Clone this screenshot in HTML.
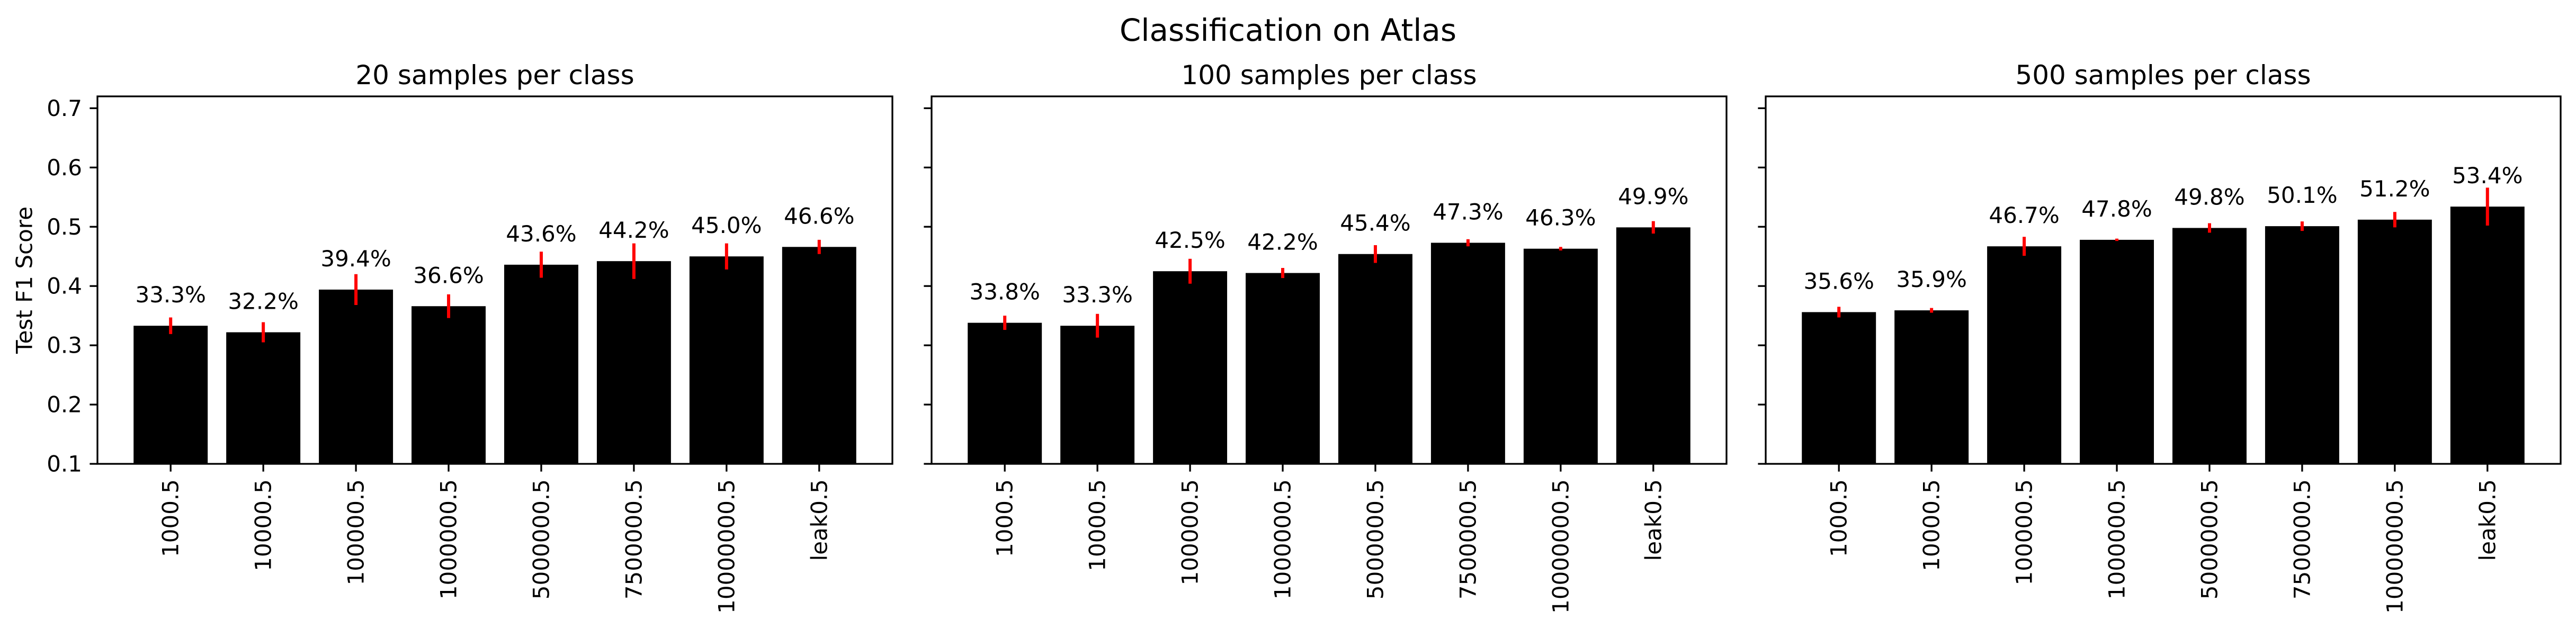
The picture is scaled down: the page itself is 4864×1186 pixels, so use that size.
<!DOCTYPE html>
<html><head><meta charset="utf-8"><style>
html,body{margin:0;padding:0;background:#fff;}
svg{display:block;}
text{font-family:"DejaVu Sans","Liberation Sans",sans-serif;fill:#000;}
</style></head><body>
<svg id="fig" width="4864" height="1186" viewBox="0 0 4864 1186" xmlns="http://www.w3.org/2000/svg">
<rect width="4864" height="1186" fill="#fff"/>
<text x="2432" y="57" font-size="58" text-anchor="middle" dominant-baseline="central">Classification on Atlas</text>
<text transform="translate(46,529) rotate(-90)" font-size="42" text-anchor="middle" dominant-baseline="central">Test F1 Score</text>
</svg>
<script>
const categories = ["1000.5","10000.5","100000.5","1000000.5","5000000.5","7500000.5","10000000.5","leak0.5"];
const panelTitles = ["20 samples per class","100 samples per class","500 samples per class"];
const values20 = [0.333,0.322,0.394,0.366,0.436,0.442,0.450,0.466];
const errors20 = [0.014,0.017,0.026,0.020,0.022,0.030,0.022,0.012];
const values100 = [0.338,0.333,0.425,0.422,0.454,0.473,0.463,0.499];
const errors100 = [0.012,0.020,0.021,0.0085,0.015,0.006,0.003,0.0105];
const values500 = [0.356,0.359,0.467,0.478,0.498,0.501,0.512,0.534];
const errors500 = [0.009,0.004,0.016,0.002,0.008,0.008,0.013,0.032];
const yTicks = [0.1,0.2,0.3,0.4,0.5,0.6,0.7];
const yMin = 0.1, yMax = 0.72;

const NS = "http://www.w3.org/2000/svg";
const fig = document.getElementById('fig');
function mk(tag, attrs, parent){const e=document.createElementNS(NS,tag);for(const k in attrs)e.setAttribute(k,attrs[k]);(parent||fig).appendChild(e);return e;}

const panels = [[values20,errors20],[values100,errors100],[values500,errors500]];
const axLefts = [184,1759,3334];
const axW = 1501, axTop = 182, axBot = 876;
const xMin = -0.79, xMax = categories.length - 1 + 0.79;

panels.forEach((p, pi) => {
  const vals = p[0], errs = p[1];
  const L = axLefts[pi];
  const xs = v => L + (v - xMin) / (xMax - xMin) * axW;
  const ys = v => axBot - (v - yMin) / (yMax - yMin) * (axBot - axTop);
  const g = mk('g', {});
  
  
  const t = mk('text', {x: L + axW/2, y: 142, 'font-size': 50, 'text-anchor': 'middle', 'dominant-baseline': 'central'}, g);
  t.textContent = panelTitles[pi];
  
  
  const bw = 0.8 * axW / (xMax - xMin);
  vals.forEach((v, i) => {
    const cx = xs(i);
    const b = mk('rect', {x: cx - bw/2, y: ys(v), width: bw, height: axBot - ys(v), fill: '#000'}, g);
    
    
    const e = mk('line', {x1: cx, x2: cx, y1: ys(v + errs[i]), y2: ys(v - errs[i]), stroke: '#f00', 'stroke-width': 6}, g);
    
    
    const lb = mk('text', {x: cx, y: ys(v) - 44, 'font-size': 42, 'text-anchor': 'middle'}, g);
    lb.textContent = (v*100).toFixed(1) + '%';
    
    
    mk('line', {x1: cx, x2: cx, y1: axBot, y2: axBot + 14.6, stroke: '#000', 'stroke-width': 3.3}, g);
    const xl = mk('text', {transform: 'translate(' + cx + ',' + (axBot + 29) + ') rotate(-90)', 'font-size': 42, 'text-anchor': 'end', 'dominant-baseline': 'central'}, g);
    xl.textContent = categories[i];
    
    
  });
  yTicks.forEach(tv => {
    mk('line', {x1: L - 14.6, x2: L, y1: ys(tv), y2: ys(tv), stroke: '#000', 'stroke-width': 3.3}, g);
    if (pi === 0) {
      const yl = mk('text', {x: L - 29, y: ys(tv), 'font-size': 42, 'text-anchor': 'end', 'dominant-baseline': 'central'}, g);
      yl.textContent = tv.toFixed(1);
      
      
    }
  });
  const fr = mk('rect', {x: L, y: axTop, width: axW, height: axBot - axTop, fill: 'none', stroke: '#000', 'stroke-width': 3.3}, g);
  
  
});
</script>
</body></html>
